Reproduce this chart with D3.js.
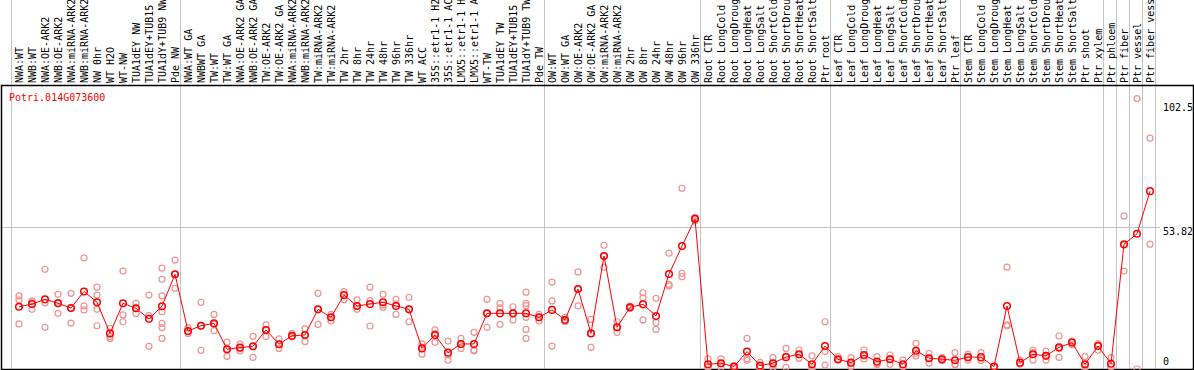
<!DOCTYPE html>
<html lang="en">
<head>
<meta charset="UTF-8">
<title>Potri.014G073600</title>
<script src="https://cdn.jsdelivr.net/npm/d3@7"></script>
<style>
  body { margin: 0; background: #fff; }
  svg { display: block; font-family: "DejaVu Sans Mono", monospace; font-size: 10px; }
</style>
</head>
<body>
<div id="chart"></div>
<script>
var GENE = "Potri.014G073600";

var categories = ["NWA:WT", "NWB:WT", "NWA:OE-ARK2", "NWB:OE-ARK2", "NWA:miRNA-ARK2", "NWB:miRNA-ARK2",
  "NW 0hr", "WT H2O", "WT-NW", "TUA1dEY NW", "TUA1dEY+TUB15 NW", "TUA1dY+TUB9 NW", "Pde NW",
  "NWA:WT GA", "NWBWT GA", "TW:WT", "TW:WT GA", "NWA:OE-ARK2 GA", "NWB:OE-ARK2 GA", "TW:OE-ARK2",
  "TW:OE-ARK2 GA", "NWA:miRNA-ARK2 GA", "NWB:miRNA-ARK2 GA", "TW:miRNA-ARK2", "TW:miRNA-ARK2",
  "TW 2hr", "TW 8hr", "TW 24hr", "TW 48hr", "TW 96hr", "TW 336hr", "WT ACC",
  "35S::etr1-1 H2O", "35S::etr1-1 ACC", "LMX5::etr1-1 H2O", "LMX5::etr1-1 ACC",
  "WT-TW", "TUA1dEY TW", "TUA1dEY+TUB15 TW", "TUA1dY+TUB9 TW", "Pde TW",
  "OW:WT", "OW:WT GA", "OW:OE-ARK2", "OW:OE-ARK2 GA", "OW:miRNA-ARK2", "OW:miRNA-ARK2",
  "OW 2hr", "OW 8hr", "OW 24hr", "OW 48hr", "OW 96hr", "OW 336hr",
  "Root CTR", "Root LongCold", "Root LongDrought", "Root LongHeat", "Root LongSalt",
  "Root ShortCold", "Root ShortDrought", "Root ShortHeat", "Root ShortSalt", "Ptr root",
  "Leaf CTR", "Leaf LongCold", "Leaf LongDrought", "Leaf LongHeat", "Leaf LongSalt",
  "Leaf ShortCold", "Leaf ShortDrought", "Leaf ShortHeat", "Leaf ShortSalt", "Ptr leaf",
  "Stem CTR", "Stem LongCold", "Stem LongDrought", "Stem LongHeat", "Stem LongSalt",
  "Stem ShortCold", "Stem ShortDrought", "Stem ShortHeat", "Stem ShortSalt", "Ptr shoot",
  "Ptr xylem", "Ptr phloem", "Ptr fiber", "Ptr vessel", "Ptr fiber vessel"];

// mean expression per sample
var means = [23.6, 24.6, 26.4, 24.9, 23.1, 29.4, 25.3, 13.5, 24.9, 23.0, 19.0, 23.8, 35.9,
  14.4, 16.4, 17.3, 7.5, 8.1, 8.6, 14.8, 9.4, 12.6, 12.9, 22.6, 19.6, 28.0, 23.9, 24.6, 25.3,
  23.9, 22.6, 7.8, 12.9, 6.2, 9.5, 9.5, 21.1, 21.1, 21.1, 21.1, 19.6,
  22.4, 18.6, 30.3, 13.5, 42.8, 15.8, 23.4, 24.5, 20.1, 36.0, 46.6, 56.9,
  1.8, 2.2, 0.9, 6.6, 1.3, 2.2, 4.5, 5.6, 1.8, 8.7,
  3.7, 2.4, 5.3, 2.8, 3.7, 1.8, 6.9, 4.1, 3.7, 3.3,
  4.5, 4.5, 0.9, 23.9, 2.4, 5.6, 5.0, 8.2, 10.0, 1.8,
  8.7, 2.0, 47.3, 51.25, 67.4];

// replicate values per sample
var reps = [[27.7, 26.2, 17.1], [25.8, 22.6, 25.5], [37.8, 25.1, 15.8], [28.3, 21.1, 25.3],
  [28.7, 17.4, 23.1], [42.1, 23.9, 22.4], [31.0, 28.0, 22.6, 16.4], [15.4, 12.3, 11.6],
  [37.1, 20.5, 17.9], [24.9, 21.0, 23.1], [28.0, 20.2, 8.6],
  [38.2, 34.0, 27.7, 21.7, 17.3, 15.7, 11.6], [41.3, 30.6, 35.9],
  [15.7, 13.5, 14.2], [25.3, 7.1, 16.4], [20.7, 14.5, 17.0], [10.2, 4.8, 7.5], [9.4, 6.9, 8.1],
  [12.4, 4.4, 8.6], [16.7, 12.3, 14.8], [11.4, 7.8, 9.4], [13.5, 12.3, 12.2], [15.2, 10.4, 12.9],
  [28.7, 16.9, 22.6], [20.7, 18.2, 19.6], [29.3, 26.2, 28.0], [26.2, 22.6, 23.9],
  [31.0, 25.9, 16.3], [28.3, 23.4, 24.3], [26.4, 20.7, 24.6], [27.2, 17.9, 22.6],
  [9.5, 5.6, 8.3], [14.8, 10.1, 13.5], [10.6, 3.3, 5.3], [11.6, 7.8, 9.2], [13.9, 7.2, 6.9],
  [26.4, 15.8, 21.1], [24.9, 23.2, 16.9], [23.6, 18.6, 21.1],
  [29.1, 24.9, 24.0, 19.6, 15.0, 11.6], [20.7, 18.2, 19.6],
  [32.9, 25.8, 8.7], [19.6, 17.9, 18.6], [36.8, 23.9, 30.3], [18.8, 8.2, 13.5],
  [46.9, 38.6, 42.8], [17.9, 13.9, 15.8], [23.4, 23.0, 23.8], [28.9, 27.0, 18.6],
  [26.8, 17.6, 15.0], [43.9, 32.1, 31.5], [68.5, 36.3, 35.0], [57.5, 57.0, 56.2],
  [3.8, 0.9, 0.6], [3.8, 2.0, 0.6], [0.5, 1.0, 1.2], [11.6, 3.8, 3.3], [2.5, 0.9, 0.3],
  [4.3, 1.6, 0.6], [7.8, 4.9, 0.6], [7.2, 4.1, 5.4], [5.0, 0.9, 0.0], [17.9, 6.6, 1.5],
  [4.7, 3.4, 3.7], [4.3, 0.9, 2.0], [7.2, 3.8, 4.9], [4.7, 1.6, 2.1], [5.3, 1.8, 3.9],
  [3.4, 0.9, 1.1], [9.7, 5.0, 6.0], [5.9, 2.2, 4.2], [4.3, 3.2, 3.7], [6.2, 1.6, 1.8],
  [5.6, 3.4, 4.5], [6.2, 3.2, 4.1], [0.8, 1.0, 0.9], [38.6, 16.3, 16.7], [3.4, 1.8, 2.0],
  [7.2, 3.4, 6.2], [6.8, 3.4, 4.8], [12.5, 4.4, 7.8], [10.6, 9.2, 10.2], [4.7, 0.9, 0.0],
  [9.4, 7.2, 9.5], [4.3, 0.9, 0.9], [58.0, 37.1, 47.0], [102.5, 0.0], [87.5, 47.3]];

// index of the last sample in each group (a separator is drawn after it)
var groupEnds = [-1, 12, 40, 52, 62, 72, 83, 84, 85, 86, 87];

var tickValues = [102.5, 53.82, 0];
var tickLabels = ["102.5", "53.82", "0"];
var yMax = 107.64;

(function () {
    var W = 1194, H = 370,
        plotTop = 85, plotBottom = 369, plotLeft = 1, plotRight = 1193;

    var svg = d3.select("#chart").append("svg")
        .attr("width", W).attr("height", H);

    var x = d3.scaleLinear().domain([0, categories.length - 1]).range([19, 1150]);
    var y = d3.scaleLinear().domain([0, yMax]).range([plotBottom, plotTop]);

    // grid
    svg.append("line")
        .attr("x1", 0).attr("x2", 1160)
        .attr("y1", Math.round(y(53.82)) + 0.5).attr("y2", Math.round(y(53.82)) + 0.5)
        .attr("stroke", "#c4c4c4");

    svg.selectAll("line.sep")
        .data(groupEnds).enter().append("line")
        .attr("class", "sep")
        .attr("x1", function (d) { return Math.round(x(d)) + 5.5; })
        .attr("x2", function (d) { return Math.round(x(d)) + 5.5; })
        .attr("y1", 0).attr("y2", plotBottom)
        .attr("stroke", "#c4c4c4");

    // frame
    svg.append("rect")
        .attr("x", plotLeft + 0.5).attr("y", plotTop + 0.5)
        .attr("width", plotRight - plotLeft).attr("height", plotBottom - plotTop)
        .attr("fill", "none").attr("stroke", "#000").attr("stroke-width", 1.5);

    // sample labels
    svg.selectAll("text.cat")
        .data(categories).enter().append("text")
        .attr("class", "cat")
        .attr("transform", function (d, i) { return "translate(" + (x(i) + 4) + ",83)rotate(-90)"; })
        .attr("fill", "#000")
        .text(function (d) { return d; });

    // y labels
    svg.selectAll("text.tick")
        .data(tickValues).enter().append("text")
        .attr("class", "tick")
        .attr("x", 1163)
        .attr("y", function (d) {
            var p = y(d);
            if (d === 0) return p - 4;
            if (d === 53.82) return p + 8;
            return p + 12.5;
        })
        .attr("fill", "#000")
        .text(function (d, i) { return tickLabels[i]; });

    // gene name
    svg.append("text")
        .attr("x", 9).attr("y", 101)
        .attr("fill", "red")
        .text(GENE);

    // replicates
    var repPts = [];
    reps.forEach(function (r, i) {
        r.forEach(function (v) { repPts.push({ i: i, v: v }); });
    });

    svg.append("g").selectAll("circle")
        .data(repPts).enter().append("circle")
        .attr("cx", function (d) { return x(d.i); })
        .attr("cy", function (d) { return y(d.v); })
        .attr("r", 3)
        .attr("fill", "none")
        .attr("stroke", "#ee9494")
        .attr("stroke-width", 1.2);

    // mean line + markers
    var line = d3.line()
        .x(function (d, i) { return x(i); })
        .y(function (d) { return y(d); });

    svg.append("path")
        .datum(means)
        .attr("d", line)
        .attr("fill", "none")
        .attr("stroke", "red")
        .attr("stroke-width", 1);

    svg.append("g").selectAll("circle")
        .data(means).enter().append("circle")
        .attr("cx", function (d, i) { return x(i); })
        .attr("cy", function (d) { return y(d); })
        .attr("r", 3.3)
        .attr("fill", "none")
        .attr("stroke", "red")
        .attr("stroke-width", 1.5);
})();
</script>
</body>
</html>
